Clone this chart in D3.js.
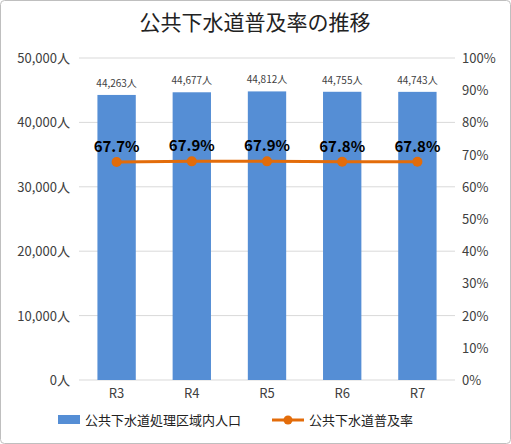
<!DOCTYPE html>
<html lang="ja">
<head>
<meta charset="UTF-8">
<script src="https://cdn.jsdelivr.net/npm/d3@7"></script>
<style>
  body { margin: 0; background: #fff; }
  text { font-family: "Noto Sans CJK JP", "Noto Sans", sans-serif; }
</style>
</head>
<body>
<svg id="chart" width="511" height="444"></svg>
<script>
// データ
const years = ['R3', 'R4', 'R5', 'R6', 'R7'];
const population = [44263, 44677, 44812, 44755, 44743];
const rate = [67.7, 67.9, 67.9, 67.8, 67.8];
const leftTicks = [0, 10000, 20000, 30000, 40000, 50000];
const rightTicks = [0, 10, 20, 30, 40, 50, 60, 70, 80, 90, 100];

const svg = d3.select('#chart');
const plotL = 79, plotR = 455, plotT = 58, plotB = 380;

svg.append('rect').attr('x', 0.5).attr('y', 0.5).attr('width', 510).attr('height', 443)
   .attr('rx', 4).attr('fill', '#fff').attr('stroke', '#bfbfbf');

svg.append('text').attr('x', 255).attr('y', 30).attr('text-anchor', 'middle')
   .attr('font-size', 21).attr('fill', '#222').text('公共下水道普及率の推移');

const x = d3.scaleBand().domain(years).range([plotL, plotR]).paddingInner(0.49).paddingOuter(0.245);
const yL = d3.scaleLinear().domain([0, 50000]).range([plotB, plotT]);
const yR = d3.scaleLinear().domain([0, 100]).range([plotB, plotT]);

// グリッド
svg.append('g').selectAll('line').data(leftTicks).join('line')
   .attr('x1', plotL).attr('x2', plotR)
   .attr('y1', d => yL(d)).attr('y2', d => yL(d))
   .attr('stroke', '#d9d9d9');

// 左軸
svg.append('g').selectAll('text').data(leftTicks).join('text')
   .attr('x', 70).attr('y', d => yL(d) + 5).attr('text-anchor', 'end')
   .attr('font-size', 13).attr('fill', '#404040')
   .text(d => d3.format(',')(d) + '人');

// 右軸
svg.append('g').selectAll('text').data(rightTicks).join('text')
   .attr('x', 462).attr('y', d => yR(d) + 5).attr('text-anchor', 'start')
   .attr('font-size', 13).attr('fill', '#404040')
   .text(d => d + '%');

// X軸
svg.append('g').selectAll('text').data(years).join('text')
   .attr('x', d => x(d) + x.bandwidth() / 2).attr('y', 398).attr('text-anchor', 'middle')
   .attr('font-size', 13).attr('fill', '#404040').text(d => d);

// 棒
svg.append('g').selectAll('rect').data(population).join('rect')
   .attr('x', (d, i) => x(years[i])).attr('width', x.bandwidth())
   .attr('y', d => yL(d)).attr('height', d => plotB - yL(d))
   .attr('fill', '#558ed5');

svg.append('g').selectAll('text').data(population).join('text')
   .attr('x', (d, i) => x(years[i]) + x.bandwidth() / 2).attr('y', d => yL(d) - 8)
   .attr('text-anchor', 'middle').attr('font-size', 10).attr('fill', '#404040')
   .text(d => d3.format(',')(d) + '人');

// 折れ線
const cx = (d, i) => x(years[i]) + x.bandwidth() / 2;
svg.append('path').datum(rate)
   .attr('d', d3.line().x(cx).y(d => yR(d)))
   .attr('fill', 'none').attr('stroke', '#e36c0a').attr('stroke-width', 3);
svg.append('g').selectAll('circle').data(rate).join('circle')
   .attr('cx', cx).attr('cy', d => yR(d)).attr('r', 5).attr('fill', '#e36c0a');
svg.append('g').selectAll('text').data(rate).join('text')
   .attr('x', cx).attr('y', d => yR(d) - 10).attr('text-anchor', 'middle')
   .attr('font-size', 15).attr('font-weight', 'bold').attr('fill', '#000')
   .attr('font-family', 'DejaVu Sans, sans-serif')
   .text(d => d.toFixed(1) + '%');

// 凡例
const lg = svg.append('g').attr('transform', 'translate(0,420)');
lg.append('rect').attr('x', 58).attr('y', -5).attr('width', 22).attr('height', 9).attr('fill', '#558ed5');
lg.append('text').attr('x', 85).attr('y', 5).attr('font-size', 13).attr('fill', '#222').text('公共下水道処理区域内人口');
lg.append('line').attr('x1', 272).attr('x2', 304).attr('y1', 0).attr('y2', 0).attr('stroke', '#e36c0a').attr('stroke-width', 3);
lg.append('circle').attr('cx', 288).attr('cy', 0).attr('r', 4.5).attr('fill', '#e36c0a');
lg.append('text').attr('x', 309).attr('y', 5).attr('font-size', 13).attr('fill', '#222').text('公共下水道普及率');
</script>
</body>
</html>
